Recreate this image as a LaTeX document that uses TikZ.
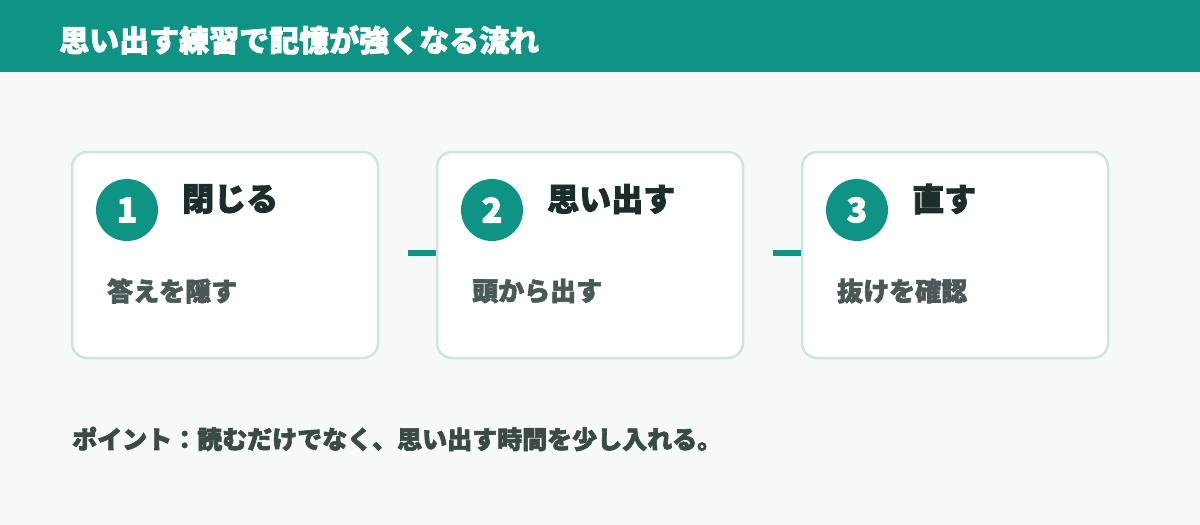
\documentclass[tikz,border=0pt]{standalone}
\usepackage{fontspec}
\newfontfamily\jp{Noto Sans CJK JP}[BoldFeatures={FakeBold=2.5}]
\definecolor{teal}{HTML}{0E9384}
\definecolor{bgc}{HTML}{F7F9F8}
\definecolor{cardborder}{HTML}{CDE5E0}
\definecolor{titlec}{HTML}{1B2E2B}
\definecolor{subc}{HTML}{4A5957}
\definecolor{notec}{HTML}{3B4947}
\tikzset{
  card/.style={draw=cardborder, line width=2.5pt, fill=white, rounded corners=15pt, minimum width=306pt, minimum height=206pt, inner sep=0pt},
  badge/.style={circle, fill=teal, minimum size=62pt, inner sep=0pt, text=white, font=\jp\bfseries\fontsize{34}{34}\selectfont},
  cardtitle/.style={anchor=west, inner sep=0pt, text=titlec, font=\jp\bfseries\fontsize{32}{32}\selectfont},
  cardsub/.style={anchor=west, inner sep=0pt, text=subc, font=\jp\bfseries\fontsize{26}{26}\selectfont},
  link/.style={draw=teal, line width=6pt}
}
\begin{document}
\begin{tikzpicture}[x=1pt,y=-1pt]
\useasboundingbox (0,0) rectangle (1200,525);
\fill[bgc] (0,0) rectangle (1200,525);
\fill[teal] (0,0) rectangle (1200,72);
\node[anchor=west, inner sep=0pt, text=white, font=\jp\bfseries\fontsize{30}{30}\selectfont] (title) at (59,40) {思い出す練習で記憶が強くなる流れ};

\node[card] (c1) at (225,255) {};
\node[card] (c2) at (590,255) {};
\node[card] (c3) at (955,255) {};

\node[badge] (b1) at (127,210) {1};
\node[badge] (b2) at (492,210) {2};
\node[badge] (b3) at (857,210) {3};

\node[cardtitle] (t1) at (182,199) {閉じる};
\node[cardtitle] (t2) at (547,199) {思い出す};
\node[cardtitle] (t3) at (912,199) {直す};

\node[cardsub] (s1) at (107,291) {答えを隠す};
\node[cardsub] (s2) at (472,291) {頭から出す};
\node[cardsub] (s3) at (837,291) {抜けを確認};

\coordinate (l1) at (408,253);
\coordinate (l2) at (773,253);
\draw[link] (l1) -- (l1 -| c2.west);
\draw[link] (l2) -- (l2 -| c3.west);

\node[anchor=west, inner sep=0pt, text=notec, font=\jp\bfseries\fontsize{25}{25}\selectfont] (note) at (72,439) {ポイント：読むだけでなく、思い出す時間を少し入れる。};
\end{tikzpicture}
\end{document}
